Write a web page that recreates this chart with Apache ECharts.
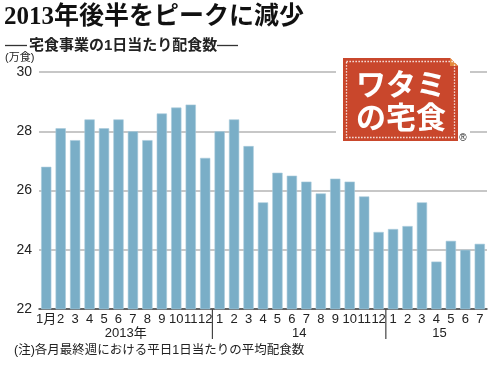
<!DOCTYPE html>
<html><head><meta charset="utf-8">
<script src="https://cdn.jsdelivr.net/npm/echarts@6/dist/echarts.min.js"></script>
<style>html,body{margin:0;padding:0;background:#fff}#c{width:500px;height:372px}</style>
</head><body><div id="c"></div>
<script>
const months = ['1月','2','3','4','5','6','7','8','9','10','11','12','1','2','3','4','5','6','7','8','9','10','11','12','1','2','3','4','5','6','7'];
const values = [26.8,28.1,27.7,28.4,28.1,28.4,28.0,27.7,28.6,28.8,28.9,27.1,28.0,28.4,27.5,25.6,26.6,26.5,26.3,25.9,26.4,26.3,25.8,24.6,24.7,24.8,25.6,23.6,24.3,24.0,24.2];
const years = ['2013年','14','15'];
const yearStart = [0,12,24];
const yearEnd = [11,23,30];
const yTicks = {min:22,max:30,interval:2};

const sans = '"Liberation Sans","Noto Sans CJK JP",sans-serif';
const chart = echarts.init(document.getElementById('c'), null, {renderer:'canvas'});
const base = {
  animation:false,
  grid:{left:39,right:13,top:72,bottom:63,containLabel:false},
  xAxis:{type:'category',data:months,
    axisLine:{lineStyle:{color:'#444',width:1.5}},
    axisTick:{show:false},
    axisLabel:{interval:0,margin:4,fontSize:13,color:'#222',fontFamily:sans}},
  yAxis:{type:'value',min:yTicks.min,max:yTicks.max,interval:yTicks.interval,
    axisLine:{show:false},axisTick:{show:false},
    axisLabel:{fontSize:14,color:'#222',margin:7,fontFamily:sans},
    splitLine:{lineStyle:{color:'#b4b4b4',width:1.5}}},
  series:[{type:'bar',data:values,barCategoryGap:'29%',
    itemStyle:{color:'#7aaec7',borderColor:'#a9cbdc',borderWidth:0.6}}]
};
chart.setOption(base);

const g = [];
const yBase = chart.convertToPixel({yAxisIndex:0}, yTicks.min);
const px = i => chart.convertToPixel({xAxisIndex:0}, i);
const band = px(1)-px(0);
for (let k=0;k<years.length;k++){
  const x0 = px(yearStart[k]) - band/2, x1 = px(yearEnd[k]) + band/2;
  g.push({type:'text',style:{text:years[k],x:(x0+x1)/2 + (k===2?3:0),y:yBase+24,align:'center',verticalAlign:'middle',fontSize:13,fill:'#222',fontFamily:sans}});
  if (k>0) g.push({type:'line',shape:{x1:x0,y1:yBase,x2:x0,y2:yBase+30},style:{stroke:'#444',lineWidth:1.2}});
}
g.push({type:'text',style:{text:'2013年後半をピークに減少',x:4,y:5,fontSize:25,fontWeight:'bold',fill:'#111',fontFamily:'"Liberation Serif","DejaVu Serif","Noto Sans CJK JP",serif'}});
g.push({type:'line',shape:{x1:5,y1:45.5,x2:27,y2:45.5},style:{stroke:'#333',lineWidth:1.3}});
g.push({type:'text',style:{text:'宅食事業の1日当たり配食数',x:29,y:45.5,verticalAlign:'middle',fontSize:15,fontWeight:'bold',fill:'#222',fontFamily:sans}});
g.push({type:'line',shape:{x1:217,y1:45.5,x2:238,y2:45.5},style:{stroke:'#333',lineWidth:1.3}});
g.push({type:'text',style:{text:'(万食)',x:5,y:52,fontSize:11,fill:'#222',fontFamily:sans}});
g.push({type:'text',style:{text:'(注)各月最終週における平日1日当たりの平均配食数',x:14,y:344,fontSize:12.5,fill:'#222',fontFamily:sans}});
g.push({type:'rect',shape:{x:336,y:52,width:134,height:94},style:{fill:'#fff'},z:10});
g.push({type:'polygon',shape:{points:[[343,58],[450,58],[458,66],[458,141],[343,141]]},style:{fill:'#c9472c'},z:11});
g.push({type:'polygon',shape:{points:[[450,58],[458,66],[450,66]]},style:{fill:'#e48a3c'},z:12});
g.push({type:'rect',shape:{x:346.5,y:61.5,width:108,height:76},style:{fill:'none',stroke:'#fff',lineWidth:1.3,lineDash:[1.3,1.7]},z:12});
g.push({type:'text',style:{text:'ワタミ',x:401,y:84,align:'center',verticalAlign:'middle',fontSize:30,fontWeight:'bold',fill:'#fff',fontFamily:'"Noto Sans CJK JP",sans-serif'},z:13});
g.push({type:'text',style:{text:'の宅食',x:401,y:117,align:'center',verticalAlign:'middle',fontSize:30,fontWeight:'bold',fill:'#fff',fontFamily:'"Noto Sans CJK JP",sans-serif'},z:13});
g.push({type:'text',style:{text:'®',x:463,y:138,align:'center',verticalAlign:'middle',fontSize:10,fill:'#222',fontFamily:sans},z:13});
chart.setOption({graphic:{elements:g}});
</script></body></html>
